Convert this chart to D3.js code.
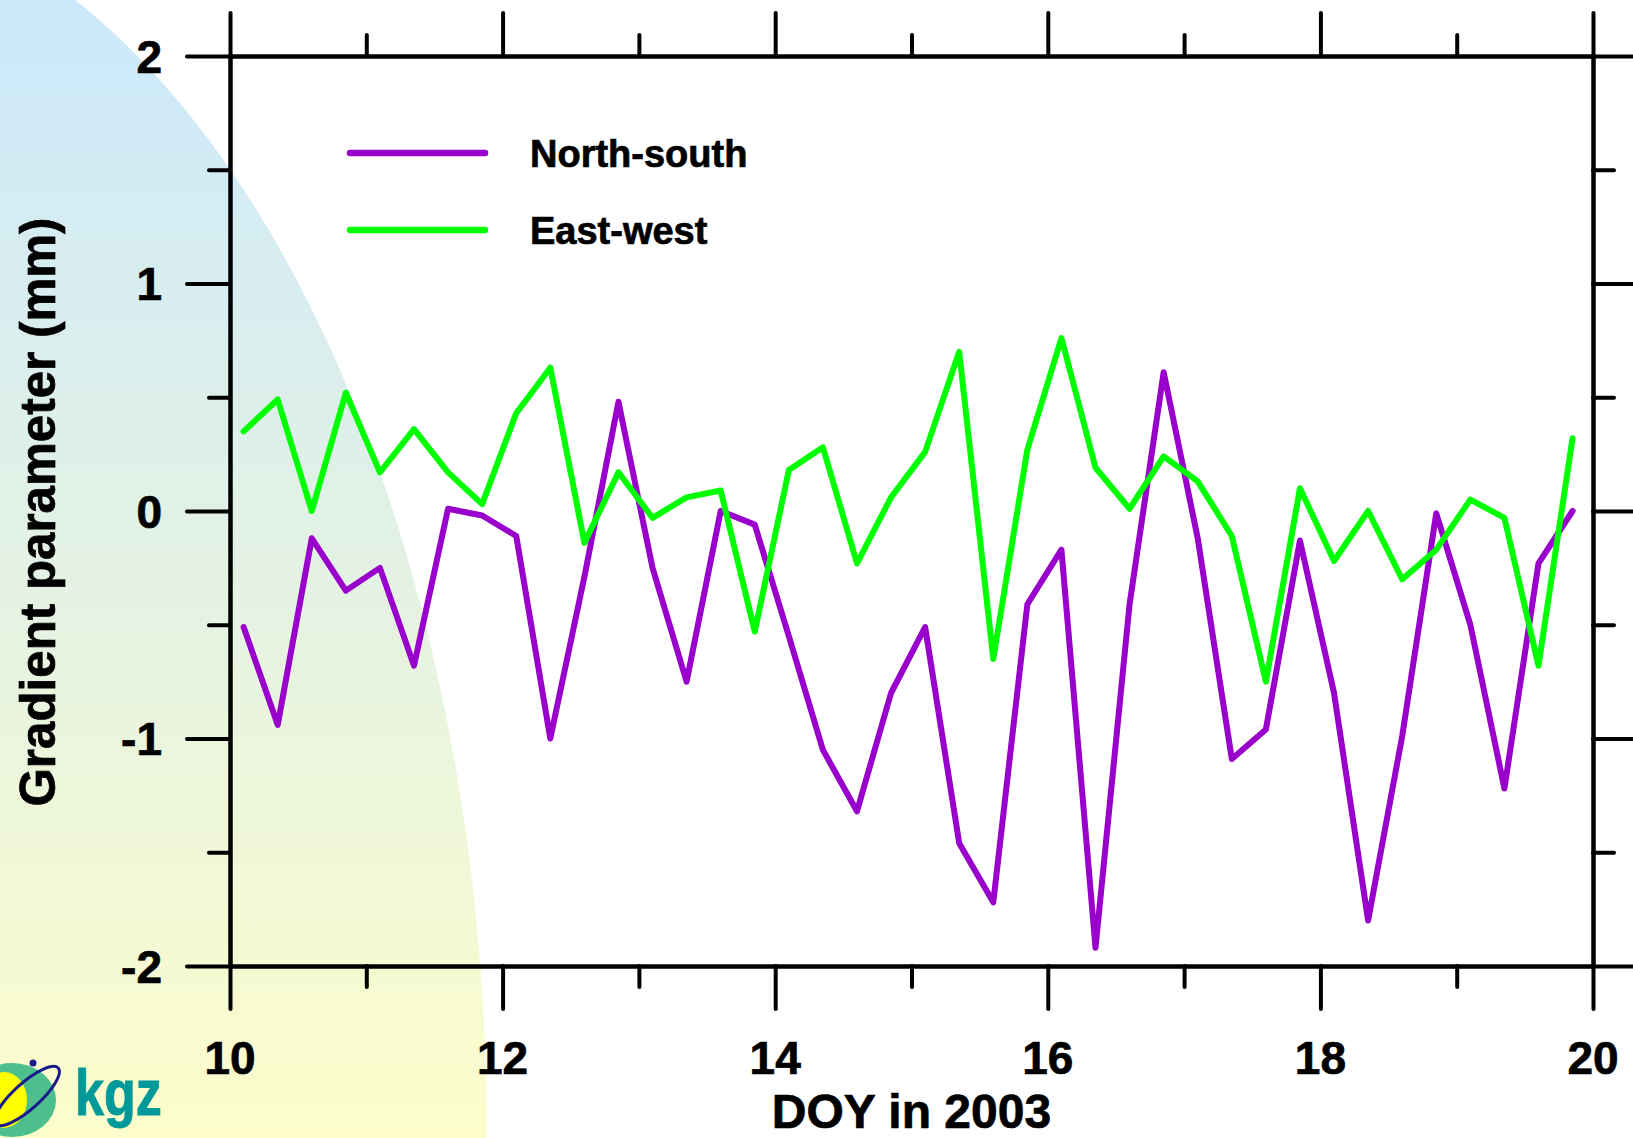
<!DOCTYPE html>
<html>
<head>
<meta charset="utf-8">
<script src="https://cdn.jsdelivr.net/npm/d3@7"></script>
<style>
  body { margin: 0; background: #ffffff; }
  svg { display: block; font-family: "Liberation Sans", Arial, sans-serif; font-weight: bold; }
  .heavy { stroke: #000; stroke-width: 0.7px; }
</style>
</head>
<body>
<div id="chart"></div>
<script>
//Data: 6-hourly gradient parameters, DOY 10-20 of 2003
var days = [10.1, 10.35, 10.6, 10.85, 11.1, 11.35, 11.6, 11.85, 12.1, 12.35,
            12.6, 12.85, 13.1, 13.35, 13.6, 13.85, 14.1, 14.35, 14.6, 14.85,
            15.1, 15.35, 15.6, 15.85, 16.1, 16.35, 16.6, 16.85, 17.1, 17.35,
            17.6, 17.85, 18.1, 18.35, 18.6, 18.85, 19.1, 19.35, 19.6, 19.85];

var northSouth = [-0.51, -0.94, -0.12, -0.35, -0.25, -0.68, 0.01, -0.02, -0.11, -1.00,
                  -0.29, 0.48, -0.25, -0.75, 0.00, -0.06, -0.55, -1.05, -1.32, -0.80,
                  -0.51, -1.46, -1.72, -0.41, -0.17, -1.92, -0.41, 0.61, -0.12, -1.09,
                  -0.96, -0.13, -0.80, -1.80, -0.99, -0.01, -0.50, -1.22, -0.23, 0.00];

var eastWest = [0.35, 0.49, 0.00, 0.52, 0.17, 0.36, 0.17, 0.03, 0.43, 0.63,
                -0.14, 0.17, -0.03, 0.06, 0.09, -0.53, 0.18, 0.28, -0.23, 0.06,
                0.26, 0.70, -0.65, 0.27, 0.76, 0.19, 0.01, 0.24, 0.13, -0.11,
                -0.75, 0.10, -0.22, 0.00, -0.30, -0.17, 0.05, -0.03, -0.68, 0.32];

var xMajorTicks = [10, 12, 14, 16, 18, 20];
var xMinorTicks = [11, 13, 15, 17, 19];
var yMajorTicks = [-2, -1, 0, 1, 2];
var yMinorTicks = [-1.5, -0.5, 0.5, 1.5];

var seriesNames = ["North-south", "East-west"];
var seriesColors = ["#9900cc", "#00ff00"];

//Define SVG area dimensions
var svgWidth = 1633;
var svgHeight = 1138;

var margin = {
    top: 56,
    right: 40,
    bottom: 172,
    left: 230
};

var width = svgWidth - margin.left - margin.right;
var height = svgHeight - margin.top - margin.bottom;

var svg = d3.select("#chart")
    .append("svg")
    .attr("width", svgWidth)
    .attr("height", svgHeight);

// slide background: gradient blob on the left
var grad = svg.append("defs").append("linearGradient")
    .attr("id", "bgGrad")
    .attr("gradientUnits", "userSpaceOnUse")
    .attr("x1", 0).attr("y1", 0)
    .attr("x2", 0).attr("y2", svgHeight);
grad.append("stop").attr("offset", "0%").attr("stop-color", "#cbe8fb");
grad.append("stop").attr("offset", "55%").attr("stop-color", "#e6f3e2");
grad.append("stop").attr("offset", "100%").attr("stop-color", "#fdfdcb");

svg.append("ellipse")
    .attr("cx", -200)
    .attr("cy", svgHeight)
    .attr("rx", 687)
    .attr("ry", 1242)
    .attr("fill", "url(#bgGrad)");

// kgz logo
var logo = svg.append("g");
logo.append("ellipse")
    .attr("cx", 12).attr("cy", 1100)
    .attr("rx", 44).attr("ry", 37)
    .attr("fill", "#4cbf8c");
logo.append("ellipse")
    .attr("cx", 4).attr("cy", 1100)
    .attr("rx", 23).attr("ry", 28)
    .attr("fill", "#ffff00");
logo.append("ellipse")
    .attr("transform", "translate(27,1096) rotate(-42)")
    .attr("rx", 42).attr("ry", 13)
    .attr("fill", "none")
    .attr("stroke", "#1a1a8a")
    .attr("stroke-width", 3);
logo.append("circle")
    .attr("cx", 33).attr("cy", 1063).attr("r", 3.5)
    .attr("fill", "#1a1a8a");
logo.append("text")
    .attr("transform", "translate(75,1115) scale(1,1.25)")
    .attr("font-size", "52px")
    .attr("fill", "#009999")
    .attr("stroke", "#009999")
    .attr("stroke-width", 0.8)
    .text("kgz");

var chartGroup = svg.append("g")
    .attr("transform", `translate(${margin.left}, ${margin.top})`);

var xLinearScale = d3.scaleLinear()
    .domain([10, 20])
    .range([0, width]);

var yLinearScale = d3.scaleLinear()
    .domain([-2, 2])
    .range([height, 0]);

// draw one set of ticks (outward) plus the frame line
function drawAxis(axis, transform, values, size) {
    var g = chartGroup.append("g")
        .attr("transform", transform)
        .call(axis.tickValues(values).tickSize(size).tickSizeOuter(0).tickFormat(""));
    g.select(".domain")
        .attr("stroke", "#000")
        .attr("stroke-width", 4);
    g.selectAll(".tick line")
        .attr("stroke", "#000")
        .attr("stroke-width", 4)
        .attr("stroke-linecap", "round");
    return g;
}

drawAxis(d3.axisBottom(xLinearScale), `translate(0, ${height})`, xMajorTicks, 43);
drawAxis(d3.axisBottom(xLinearScale), `translate(0, ${height})`, xMinorTicks, 21);
drawAxis(d3.axisTop(xLinearScale), "translate(0, 0)", xMajorTicks, 43);
drawAxis(d3.axisTop(xLinearScale), "translate(0, 0)", xMinorTicks, 21);
drawAxis(d3.axisLeft(yLinearScale), "translate(0, 0)", yMajorTicks, 43);
drawAxis(d3.axisLeft(yLinearScale), "translate(0, 0)", yMinorTicks, 21);
drawAxis(d3.axisRight(yLinearScale), `translate(${width}, 0)`, yMajorTicks, 43);
drawAxis(d3.axisRight(yLinearScale), `translate(${width}, 0)`, yMinorTicks, 21);

// tick labels
chartGroup.selectAll("text.xtick")
    .data(xMajorTicks)
    .enter()
    .append("text")
    .attr("class", "xtick heavy")
    .attr("x", d => xLinearScale(d))
    .attr("y", height + 108)
    .attr("text-anchor", "middle")
    .attr("font-size", "46px")
    .text(d => String(d));

chartGroup.selectAll("text.ytick")
    .data(yMajorTicks)
    .enter()
    .append("text")
    .attr("class", "ytick heavy")
    .attr("x", -68)
    .attr("y", d => yLinearScale(d) + 16.5)
    .attr("text-anchor", "end")
    .attr("font-size", "46px")
    .text(d => String(d));

// axis titles
chartGroup.append("text")
    .attr("class", "heavy")
    .attr("x", width / 2)
    .attr("y", height + 161.5)
    .attr("text-anchor", "middle")
    .attr("font-size", "48px")
    .text("DOY in 2003");

chartGroup.append("text")
    .attr("class", "heavy")
    .attr("transform", `translate(${55 - margin.left}, ${512 - margin.top}) rotate(-90)`)
    .attr("text-anchor", "middle")
    .attr("font-size", "49.3px")
    .text("Gradient parameter (mm)");

// lines
var line = d3.line()
    .x(d => xLinearScale(d.day))
    .y(d => yLinearScale(d.value));

var series = [northSouth, eastWest];
series.forEach(function(values, i) {
    var points = days.map((day, j) => ({day: day, value: values[j]}));
    chartGroup.append("path")
        .datum(points)
        .attr("d", line)
        .attr("fill", "none")
        .attr("stroke", seriesColors[i])
        .attr("stroke-width", 6)
        .attr("stroke-linejoin", "round")
        .attr("stroke-linecap", "round");
});

// legend
var legend = svg.append("g")
    .attr("transform", "translate(350, 153)");

var legendItems = legend.selectAll("g")
    .data(seriesNames)
    .enter()
    .append("g")
    .attr("transform", (d, i) => `translate(0, ${i * 77})`);

legendItems.append("line")
    .attr("x1", 0)
    .attr("x2", 135)
    .attr("stroke", (d, i) => seriesColors[i])
    .attr("stroke-width", 6.5)
    .attr("stroke-linecap", "round");

legendItems.append("text")
    .attr("class", "heavy")
    .attr("x", 180)
    .attr("y", 14)
    .attr("font-size", "38px")
    .text(d => d);
</script>
</body>
</html>
